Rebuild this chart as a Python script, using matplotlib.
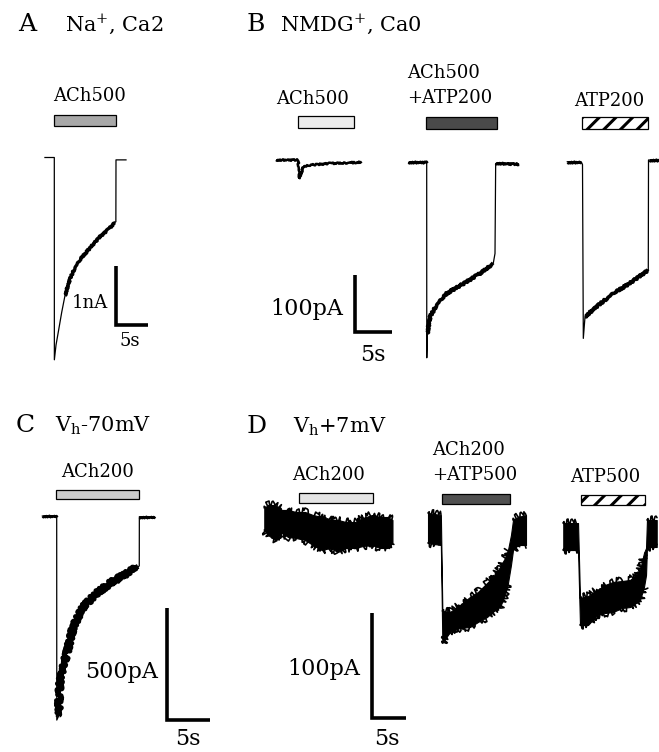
import matplotlib
matplotlib.use("Agg")
import matplotlib.pyplot as plt
from matplotlib.transforms import Affine2D, blended_transform_factory
from matplotlib.patches import Rectangle

# ---------------- data: time (s) from drug onset, membrane current ----------------
# Panel A  (current in nA)
A_t = [-1.56, 0.0, 0.01, 0.27, 0.63, 1.16, 1.67, 2.45, 3.23, 4.28, 5.58, 7.14, 8.44, 9.48, 9.62, 9.64, 11.3]
A_i = [0.0, 0.0, -3.40, -3.15, -2.93, -2.60, -2.32, -2.04, -1.85, -1.68, -1.52, -1.33, -1.21, -1.09, -1.08, -0.04, -0.04]
A_drug = [0.0, 9.64]

# Panel B  (pA)
B1_t = [-3.01, -0.02, 0.14, 0.68, 1.58, 4.28, 8.57]
B1_i = [0, 0, -32, -12, -9, -6, -4]
B1_drug = [-0.08, 7.52]

B2_t = [-2.53, 0.0, 0.01, 0.09, 0.45, 1.35, 2.7, 4.96, 7.2, 9.0, 9.23, 9.32, 12.5]
B2_i = [0, 0, -343, -300, -271, -250, -230, -213, -195, -177, -160, -2, -3.5]
B2_drug = [-0.09, 9.46]

B3_t = [-2.14, -0.2, 0.0, 0.11, 0.34, 1.92, 4.16, 6.42, 8.89, 8.92, 10.34]
B3_i = [0, 0, -5, -310, -272, -254, -231, -213, -190, 3, 3]
B3_drug = [-0.03, 8.89]

# Panel C  (pA)
C_t = [-1.74, 0.0, 0.01, 0.19, 0.38, 1.16, 1.93, 3.09, 4.65, 6.2, 8.14, 9.49, 9.6, 9.61, 11.4]
C_i = [0, 0, -911, -896, -732, -613, -494, -405, -345, -300, -256, -226, -223, -3, -3]
C_drug = [-0.12, 9.6]

# Panel D  (pA) noisy traces given as lower / upper envelopes
D1_t = [-5.15, -4.6, -3.57, -2.54, -1.66, -0.49, 0.84, 2.01, 3.34, 4.51, 5.69, 6.87, 8.19, 9.37, 10.7, 11.9, 13.0, 13.7]
D1_hi = [12.4, 15.2, 15.2, 10.5, 10.5, 8.6, 8.6, 5.7, 3.8, 1.0, 1.0, -1.0, -1.0, 2.9, 5.7, 3.8, 3.8, 1.0]
D1_lo = [-8.6, -13.3, -18.1, -11.4, -15.2, -16.2, -18.1, -22.9, -27.6, -25.7, -29.5, -25.7, -25.7, -23.8, -22.9, -25.7, -25.7, -21.0]
D1_drug = [0.0, 10.9]

D2_t = [-1.91, -0.02, 0.2, 1.32, 2.79, 4.26, 5.44, 6.76, 7.94, 8.68, 9.41, 9.85, 10.29, 10.59, 11.32, 12.5]
D2_hi = [16.2, 14.3, -77.1, -78.1, -71.4, -63.8, -59.0, -50.5, -42.9, -35.2, -26.7, -19.0, -4.8, 9.5, 12.4, 14.3]
D2_lo = [-12.4, -14.3, -107.6, -97.1, -93.3, -92.4, -87.6, -82.9, -76.2, -73.3, -61.9, -50.5, -33.3, -19.0, -14.3, -14.3]
D2_drug = [0.15, 10.1]

D3_t = [-2.21, -0.04, 0.25, 1.43, 2.75, 3.93, 5.10, 6.43, 7.6, 8.49, 9.07, 9.66, 9.96, 10.1, 11.53]
D3_hi = [13.0, 13.0, -58.4, -56.5, -50.8, -46.0, -43.1, -42.2, -41.2, -36.5, -31.7, -15.5, -10.8, 15.9, 15.9]
D3_lo = [-12.7, -12.7, -84.1, -84.1, -74.6, -72.7, -71.7, -67.9, -67.0, -63.1, -60.3, -47.9, -36.5, -9.8, -9.8]
D3_drug = [0.4, 9.8]

# scale bars (time s, current)
A_bar = [5, 1]        # 5 s, 1 nA
B_bar = [5, 100]      # 5 s, 100 pA
C_bar = [5, 500]
D_bar = [5, 100]

# ---------------- figure ----------------
plt.rcParams['font.family'] = ['DejaVu Serif']
plt.rcParams['mathtext.fontset'] = 'dejavuserif'
plt.rcParams['hatch.linewidth'] = 2.2

W, H = 659, 752
fig = plt.figure(figsize=(W / 100, H / 100), dpi=100)
ax = fig.add_axes([0, 0, 1, 1])
ax.set_xlim(0, W)
ax.set_ylim(H, 0)
ax.set_autoscale_on(False)
ax.axis('off')

# pixel scale of each panel (px per s, px per current unit)
SC = {'A': (6.4, 59.5), 'B': (7.4, 0.57), 'C': (8.6, 0.224), 'D': (6.8, 1.05)}


def frame(panel, x0, y0):
    pxs, pxu = SC[panel]
    return Affine2D().scale(pxs, -pxu).translate(x0, y0) + ax.transData


def trace(tr, t, i, lw=0.8, sketch=None):
    ln, = ax.plot(t, i, color='black', lw=lw, transform=tr,
                  solid_joinstyle='round', solid_capstyle='butt')
    if sketch:
        ln.set_sketch_params(*sketch)


def band(tr, t, lo, hi, segments, sketch=(4.0, 1.2, 1.5)):
    ax.fill_between(t, lo, hi, transform=tr, facecolor='black',
                    edgecolor='black', lw=0.8)
    for a, b in segments:
        for edge in (lo, hi):
            ln, = ax.plot(t[a:b], edge[a:b], color='black', lw=1.2, transform=tr,
                          solid_joinstyle='round', solid_capstyle='round')
            ln.set_sketch_params(*sketch)


def drug(tr, on_off, ytop, h, fc='#bbbbbb', hatch=None):
    bt = blended_transform_factory(tr, ax.transData)
    r = Rectangle((on_off[0], ytop), on_off[1] - on_off[0], h, transform=bt,
                  facecolor=fc, edgecolor='black', lw=0.9, hatch=hatch)
    ax.add_patch(r)


def scalebar(panel, cx, cy, sizes):
    tr = frame(panel, cx, cy)
    ax.plot([0, 0, sizes[0]], [sizes[1], 0, 0], color='black', lw=2.6,
            transform=tr, solid_joinstyle='miter', solid_capstyle='butt')


def txt(x, y, s, size=13, ha='center'):
    ax.text(x, y, s, fontsize=size, ha=ha, va='baseline', color='black')


# ---- Panel A ----
trA = frame('A', 54.3, 157.5)
trace(trA, A_t, A_i, lw=0.9)
trace(trA, A_t[6:14], A_i[6:14], lw=2.4, sketch=(0.8, 2.0, 2.0))
drug(trA, A_drug, 115, 11, fc='#a8a8a8')
scalebar('A', 116, 325, A_bar)
txt(27.5, 31, 'A', 18)
txt(65, 31, 'Na$^{+}$, Ca2', 15, ha='left')
txt(90, 101, 'ACh500')
txt(90, 308, '1nA')
txt(130, 346, '5s')

# ---- Panel B ----
trB1 = frame('B', 298.3, 160)
trace(trB1, B1_t, B1_i, lw=1.8, sketch=(0.8, 2.0, 2.0))
drug(trB1, B1_drug, 116, 12, fc='#ececec')
txt(313, 104, 'ACh500')

trB2 = frame('B', 426.7, 162.3)
trace(trB2, B2_t, B2_i, lw=0.9)
trace(trB2, B2_t[:2], B2_i[:2], lw=2.0, sketch=(0.8, 2.0, 2.0))
trace(trB2, B2_t[-2:], B2_i[-2:], lw=2.0, sketch=(0.8, 2.0, 2.0))
trace(trB2, B2_t[3:10], B2_i[3:10], lw=2.6, sketch=(1.0, 2.0, 2.0))
drug(trB2, B2_drug, 117, 12, fc='#4a4a4a')
txt(406.7, 78, 'ACh500', ha='left')
txt(406.7, 103, '+ATP200', ha='left')

trB3 = frame('B', 582.5, 161.7)
trace(trB3, B3_t, B3_i, lw=0.9)
trace(trB3, B3_t[:2], B3_i[:2], lw=2.0, sketch=(0.8, 2.0, 2.0))
trace(trB3, B3_t[-2:], B3_i[-2:], lw=2.0, sketch=(0.8, 2.0, 2.0))
trace(trB3, B3_t[4:9], B3_i[4:9], lw=2.6, sketch=(1.0, 2.0, 2.0))
drug(trB3, B3_drug, 117, 12, fc='white', hatch='//')
txt(609, 106, 'ATP200')

scalebar('B', 355, 332.3, B_bar)
txt(256, 31, 'B', 18)
txt(280, 31, 'NMDG$^{+}$, Ca0', 15, ha='left')
txt(307, 315, '100pA', 16)
txt(372.5, 361, '5s', 16)

# ---- Panel C ----
trC = frame('C', 56.7, 516)
trace(trC, C_t, C_i, lw=0.9)
trace(trC, C_t[:2], C_i[:2], lw=1.8, sketch=(0.8, 2.0, 2.0))
trace(trC, C_t[-2:], C_i[-2:], lw=1.8, sketch=(0.8, 2.0, 2.0))
trace(trC, C_t[3:12], C_i[3:12], lw=3.6, sketch=(2.6, 1.3, 1.5))
drug(trC, C_drug, 490, 8.5, fc='#cccccc')
scalebar('C', 166.7, 720, C_bar)
txt(25, 432, 'C', 18)
txt(55, 432, 'V$_\\mathregular{h}$-70mV', 15, ha='left')
txt(98, 477, 'ACh200')
txt(122, 678, '500pA', 16)
txt(187.5, 745, '5s', 16)

# ---- Panel D ----
trD1 = frame('D', 299.3, 521)
band(trD1, D1_t, D1_lo, D1_hi, [(0, len(D1_t))])
drug(trD1, D1_drug, 493, 9.5, fc='#e4e4e4')
txt(329, 480, 'ACh200')

trD2 = frame('D', 441, 530)
band(trD2, D2_t, D2_lo, D2_hi, [(0, 2), (2, 12), (13, 16)])
drug(trD2, D2_drug, 494, 9.5, fc='#505050')
txt(431.7, 455, 'ACh200', ha='left')
txt(431.7, 480, '+ATP500', ha='left')

trD3 = frame('D', 578.3, 536.7)
band(trD3, D3_t, D3_lo, D3_hi, [(0, 2), (2, 12), (13, 15)])
drug(trD3, D3_drug, 495, 9.5, fc='white', hatch='//')
txt(605, 482, 'ATP500')

scalebar('D', 371.7, 718.3, D_bar)
txt(257, 433, 'D', 18)
txt(293, 433, 'V$_\\mathregular{h}$+7mV', 15, ha='left')
txt(323.5, 675, '100pA', 16)
txt(386.7, 745, '5s', 16)

ax.set_xlim(0, W)
ax.set_ylim(H, 0)
fig.savefig('out.png', dpi=100)
